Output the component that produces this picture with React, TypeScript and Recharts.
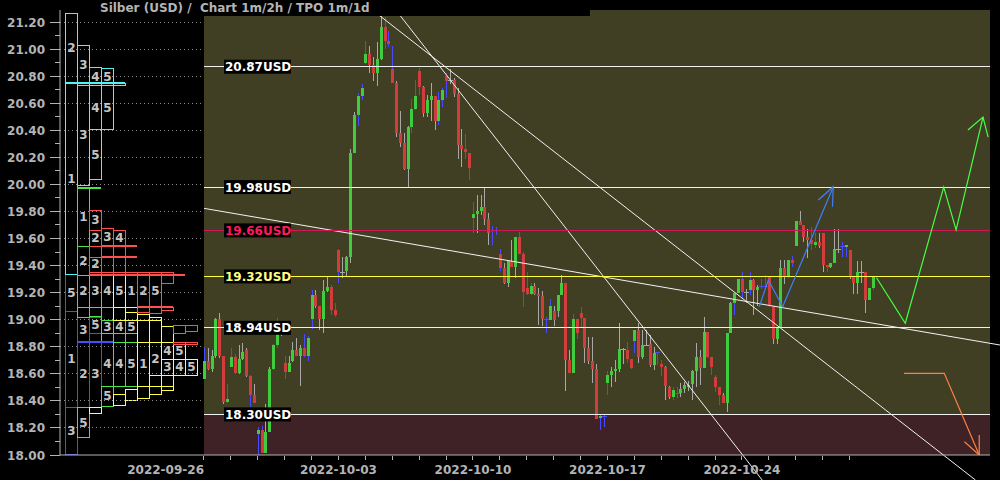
import React from 'react';
import { ComposedChart, XAxis, YAxis, Bar, Line, ReferenceLine, ReferenceArea } from 'recharts';

const FONT = '"DejaVu Sans", sans-serif';
const GREY = '#b4b4b4';

// [open, high, low, close, wick colour] - wick 'b' blue, 'g' grey. 7 bars per trading day.
type Candle = [number, number, number, number, 'b' | 'g'];

const WEEK_0926: Candle[][] = [
  [[18.56, 18.8, 18.56, 18.695, 'b'], [18.695, 18.788, 18.63, 18.636, 'g'], [18.636, 18.776, 18.61, 18.73, 'g'], [18.73, 19.01, 18.72, 19.005, 'g'], [19.005, 19.05, 18.72, 18.73, 'g'], [18.73, 18.73, 18.38, 18.394, 'g'], [18.39, 18.525, 18.387, 18.414, 'b']],
  [[18.653, 18.793, 18.65, 18.727, 'b'], [18.727, 18.747, 18.6, 18.608, 'b'], [18.608, 18.81, 18.6, 18.71, 'g'], [18.71, 18.826, 18.7, 18.76, 'g'], [18.776, 18.788, 18.58, 18.587, 'g'], [18.587, 18.59, 18.357, 18.446, 'b'], [18.446, 18.525, 18.385, 18.387, 'g']],
  [[18.157, 18.21, 18.0, 18.185, 'b'], [18.185, 18.215, 18.012, 18.017, 'b'], [18.017, 18.38, 18.012, 18.167, 'g'], [18.167, 18.653, 18.167, 18.636, 'g'], [18.636, 18.82, 18.63, 18.813, 'b'], [18.813, 19.01, 18.79, 18.892, 'b'], [18.892, 18.99, 18.88, 18.95, 'g']],
  [[18.677, 18.734, 18.562, 18.616, 'b'], [18.616, 18.73, 18.61, 18.677, 'g'], [18.697, 18.838, 18.69, 18.776, 'g'], [18.776, 18.862, 18.73, 18.734, 'g'], [18.734, 18.813, 18.512, 18.793, 'g'], [18.793, 18.892, 18.727, 18.734, 'b'], [18.734, 18.88, 18.697, 18.865, 'b']],
  [[19.005, 19.22, 18.93, 19.183, 'b'], [19.183, 19.22, 19.084, 19.1, 'g'], [19.1, 19.1, 18.924, 19.005, 'g'], [19.005, 19.293, 18.9, 19.212, 'g'], [19.212, 19.318, 19.207, 19.244, 'g'], [19.244, 19.256, 19.035, 19.072, 'b'], [19.072, 19.12, 19.018, 19.035, 'b']],
];

const WEEK_1003: Candle[][] = [
  [[19.515, 19.52, 19.268, 19.355, 'b'], [19.355, 19.466, 19.306, 19.35, 'g'], [19.36, 19.47, 19.32, 19.466, 'g'], [19.466, 20.26, 19.42, 20.234, 'g'], [20.234, 20.537, 20.23, 20.513, 'g'], [20.513, 20.673, 20.434, 20.653, 'b'], [20.653, 20.742, 20.624, 20.71, 'b']],
  [[20.895, 21.06, 20.89, 20.964, 'b'], [20.964, 21.023, 20.826, 20.882, 'g'], [20.882, 20.944, 20.764, 20.826, 'g'], [20.826, 21.055, 20.727, 20.924, 'g'], [20.924, 21.245, 20.92, 21.16, 'g'], [21.16, 21.24, 20.998, 21.062, 'b'], [21.062, 21.136, 21.013, 21.037, 'b']],
  [[20.85, 21.023, 20.75, 20.752, 'b'], [20.752, 20.767, 20.348, 20.383, 'g'], [20.383, 20.545, 20.274, 20.304, 'g'], [20.304, 20.377, 20.106, 20.116, 'g'], [20.116, 20.434, 19.983, 20.427, 'g'], [20.427, 20.631, 20.377, 20.555, 'b'], [20.555, 20.772, 20.55, 20.653, 'b']],
  [[20.838, 20.858, 20.66, 20.722, 'b'], [20.722, 20.727, 20.5, 20.53, 'g'], [20.53, 20.66, 20.5, 20.624, 'g'], [20.624, 20.752, 20.47, 20.653, 'g'], [20.653, 20.653, 20.4, 20.47, 'g'], [20.47, 20.685, 20.44, 20.624, 'b'], [20.624, 20.71, 20.575, 20.698, 'b']],
  [[20.801, 20.826, 20.636, 20.767, 'b'], [20.767, 20.85, 20.742, 20.762, 'g'], [20.772, 20.784, 20.648, 20.668, 'g'], [20.668, 20.71, 20.188, 20.291, 'g'], [20.291, 20.41, 20.131, 20.262, 'g'], [20.262, 20.372, 20.185, 20.242, 'b'], [20.235, 20.235, 20.032, 20.124, 'b']],
];

const WEEK_1010: Candle[][] = [
  [[19.749, 19.872, 19.643, 19.779, 'b'], [19.779, 19.922, 19.643, 19.803, 'g'], [19.803, 19.922, 19.774, 19.835, 'g'], [19.835, 19.978, 19.7, 19.744, 'g'], [19.744, 19.79, 19.552, 19.643, 'g'], [19.66, 19.693, 19.552, 19.655, 'b'], [19.655, 19.688, 19.626, 19.66, 'b']],
  [[19.485, 19.522, 19.362, 19.382, 'b'], [19.382, 19.416, 19.264, 19.274, 'g'], [19.274, 19.441, 19.244, 19.434, 'g'], [19.429, 19.589, 19.387, 19.387, 'g'], [19.387, 19.613, 19.306, 19.613, 'g'], [19.613, 19.65, 19.485, 19.485, 'b'], [19.485, 19.503, 19.096, 19.207, 'b']],
  [[19.237, 19.355, 19.182, 19.19, 'b'], [19.19, 19.269, 19.182, 19.25, 'b'], [19.25, 19.269, 19.182, 19.19, 'g'], [19.19, 19.237, 18.96, 19.175, 'g'], [19.175, 19.212, 18.953, 19.003, 'g'], [19.003, 19.017, 18.899, 19.0, 'b'], [19.0, 19.15, 18.998, 19.1, 'b']],
  [[19.064, 19.1, 18.953, 18.998, 'g'], [19.064, 19.182, 19.022, 19.182, 'g'], [19.182, 19.33, 19.18, 19.269, 'g'], [19.269, 19.269, 18.475, 18.702, 'g'], [18.702, 18.776, 18.608, 18.608, 'g'], [18.608, 19.042, 18.608, 19.003, 'b'], [19.003, 19.003, 18.855, 18.904, 'b']],
  [[19.047, 19.096, 18.936, 19.015, 'b'], [19.015, 19.015, 18.677, 18.788, 'g'], [18.788, 18.874, 18.672, 18.694, 'g'], [18.694, 18.874, 18.53, 18.635, 'g'], [18.635, 18.672, 18.266, 18.266, 'g'], [18.276, 18.296, 18.185, 18.286, 'b'], [18.281, 18.296, 18.21, 18.281, 'b']],
];

const WEEK_1017: Candle[][] = [
  [[18.53, 18.623, 18.443, 18.591, 'b'], [18.591, 18.648, 18.5, 18.62, 'g'], [18.62, 18.702, 18.542, 18.635, 'g'], [18.635, 18.978, 18.61, 18.781, 'g'], [18.78, 18.79, 18.67, 18.776, 'g'], [18.776, 18.838, 18.677, 18.71, 'b'], [18.71, 18.71, 18.633, 18.64, 'b']],
  [[18.845, 18.924, 18.751, 18.924, 'b'], [18.924, 18.978, 18.677, 18.727, 'g'], [18.727, 18.924, 18.707, 18.813, 'g'], [18.813, 18.924, 18.806, 18.81, 'g'], [18.82, 18.887, 18.648, 18.665, 'g'], [18.665, 18.796, 18.628, 18.751, 'g'], [18.756, 18.763, 18.665, 18.756, 'b']],
  [[18.672, 18.702, 18.584, 18.648, 'b'], [18.648, 18.66, 18.41, 18.51, 'g'], [18.505, 18.51, 18.411, 18.426, 'g'], [18.426, 18.5, 18.41, 18.48, 'b'], [18.46, 18.5, 18.42, 18.455, 'b'], [18.46, 18.53, 18.43, 18.49, 'g'], [18.49, 18.54, 18.46, 18.515, 'g']],
  [[18.5, 18.55, 18.47, 18.52, 'g'], [18.525, 18.628, 18.407, 18.62, 'g'], [18.62, 18.825, 18.505, 18.727, 'g'], [18.727, 18.776, 18.517, 18.64, 'g'], [18.64, 19.022, 18.64, 18.91, 'g'], [18.91, 18.91, 18.715, 18.727, 'b'], [18.727, 18.727, 18.59, 18.653, 'b']],
  [[18.574, 18.591, 18.468, 18.505, 'b'], [18.505, 18.505, 18.37, 18.443, 'b'], [18.443, 18.456, 18.382, 18.387, 'g'], [18.387, 18.9, 18.32, 18.9, 'g'], [18.9, 19.133, 18.9, 19.121, 'g'], [19.12, 19.2, 19.035, 19.2, 'b'], [19.2, 19.3, 19.2, 19.3, 'g']],
];

const WEEK_1024: Candle[][] = [
  [[19.3, 19.355, 19.15, 19.207, 'b'], [19.207, 19.224, 19.126, 19.2, 'g'], [19.22, 19.355, 19.183, 19.294, 'b'], [19.294, 19.3, 19.035, 19.22, 'g'], [19.22, 19.26, 19.1, 19.24, 'g'], [19.24, 19.3, 19.23, 19.245, 'b'], [19.245, 19.33, 19.23, 19.25, 'b']],
  [[19.313, 19.318, 19.096, 19.1, 'b'], [19.1, 19.1, 18.82, 18.855, 'g'], [18.855, 18.936, 18.82, 18.936, 'g'], [18.936, 19.44, 18.936, 19.38, 'g'], [19.38, 19.44, 19.264, 19.323, 'g'], [19.323, 19.44, 19.306, 19.44, 'b'], [19.44, 19.471, 19.392, 19.42, 'b']],
  [[19.545, 19.73, 19.545, 19.73, 'g'], [19.73, 19.804, 19.7, 19.7, 'g'], [19.7, 19.7, 19.577, 19.614, 'g'], [19.614, 19.668, 19.454, 19.589, 'g'], [19.589, 19.688, 19.515, 19.56, 'b'], [19.552, 19.638, 19.528, 19.577, 'b'], [19.577, 19.638, 19.528, 19.545, 'g']],
  [[19.638, 19.638, 19.355, 19.404, 'g'], [19.404, 19.404, 19.355, 19.387, 'b'], [19.387, 19.422, 19.38, 19.422, 'g'], [19.422, 19.668, 19.42, 19.52, 'g'], [19.52, 19.668, 19.49, 19.52, 'g'], [19.54, 19.577, 19.466, 19.54, 'b'], [19.535, 19.552, 19.466, 19.552, 'b']],
  [[19.515, 19.515, 19.3, 19.313, 'g'], [19.313, 19.313, 19.19, 19.274, 'g'], [19.274, 19.434, 19.19, 19.355, 'g'], [19.355, 19.434, 19.27, 19.35, 'g'], [19.355, 19.355, 19.047, 19.146, 'g'], [19.146, 19.232, 19.146, 19.232, 'g'], [19.232, 19.318, 19.22, 19.318, 'b']],
];

const WEEK_LABELS = ['2022-09-26', '2022-10-03', '2022-10-10', '2022-10-17', '2022-10-24'];
const DAY_TICKS = [0, 1, 2, 3, 4, 5, 6, 7, 8, 9, 10, 11, 12, 13, 14, 15, 16, 17, 18, 19, 20, 21, 22, 23, 24];
const Y_TICKS = [18.0, 18.1, 18.2, 18.3, 18.4, 18.5, 18.6, 18.7, 18.8, 18.9, 19.0, 19.1, 19.2, 19.3, 19.4, 19.5, 19.6, 19.7, 19.8, 19.9, 20.0, 20.1, 20.2, 20.3, 20.4, 20.5, 20.6, 20.7, 20.8, 20.9, 21.0, 21.1, 21.2];
const GRID_LEVELS = [18.2, 18.4, 18.6, 18.8, 19.0, 19.2, 19.4, 19.6, 19.8, 20.0, 20.2, 20.4, 20.6, 20.8, 21.0, 21.2];

// price levels with their labels
const LEVELS = [20.87, 19.98, 19.66, 19.32, 18.94, 18.3];
const LEVEL_TEXT = ['20.87USD', '19.98USD', '19.66USD', '19.32USD', '18.94USD', '18.30USD'];
const LEVEL_STYLE: Record<string, { line: string; text: string }> = {
  '20.87': { line: '#f0f0f0', text: '#ffffff' },
  '19.98': { line: '#f0f0f0', text: '#ffffff' },
  '19.66': { line: '#d01858', text: '#ff1a5e' },
  '19.32': { line: '#ffff40', text: '#ffff80' },
  '18.94': { line: '#f0f0f0', text: '#ffffff' },
  '18.30': { line: '#f0f0f0', text: '#ffffff' },
};

// trend lines: [day, price] -> [day, price]
const TREND_LINES: [number, number, number, number][] = [
  [0, 19.823, 29.59, 18.813],
  [7.13, 21.289, 20.75, 17.815],
  [6.26, 21.289, 28.68, 17.815],
];

// projection paths (day, price)
const GREEN_PATH = [
  { x: 25.0, v: 19.31 }, { x: 26.07, v: 18.974 }, { x: 27.5, v: 19.98 }, { x: 27.96, v: 19.663 }, { x: 28.96, v: 20.498 },
];
const GREEN_HEAD = [{ x: 28.4, v: 20.402 }, { x: 28.96, v: 20.498 }, { x: 29.15, v: 20.35 }];
const BLUE_PATH = [{ x: 20.643, v: 19.096 }, { x: 20.978, v: 19.293 }, { x: 21.513, v: 19.096 }, { x: 23.394, v: 19.983 }];
const BLUE_HEAD = [{ x: 22.836, v: 19.885 }, { x: 23.394, v: 19.983 }, { x: 23.364, v: 19.835 }];
const ORANGE_PATH = [{ x: 26.02, v: 18.604 }, { x: 27.52, v: 18.604 }, { x: 28.82, v: 18.0 }];
const ORANGE_HEAD = [{ x: 28.27, v: 18.098 }, { x: 28.82, v: 18.0 }, { x: 28.82, v: 18.148 }];

// TPO profile boxes: [column, low, high, label]
type Tpo = [number, number, number, string];
const TPO_CYAN: Tpo[] = [
  [0, 20.752, 21.265, '2'], [0, 19.336, 20.752, '1'],
  [1, 20.732, 21.03, '3'], [1, 19.995, 20.732, '3'],
  [2, 20.732, 20.865, '4'], [2, 20.407, 20.732, '4'], [2, 20.037, 20.407, '5'],
  [3, 20.732, 20.86, '5'], [3, 20.407, 20.732, '5'], [4, 20.732, 20.752, ''],
];
const TPO_GREEN: Tpo[] = [
  [1, 19.544, 19.971, '1'], [1, 19.33, 19.544, '2'], [1, 19.096, 19.33, '2'],
  [2, 19.544, 19.663, '2'], [2, 19.096, 19.33, '3'], [3, 19.096, 19.33, '4'],
  [1, 19.02, 19.096, ''], [2, 19.03, 19.096, ''], [3, 18.998, 19.096, ''],
  [3, 18.9, 18.998, '3'], [4, 18.9, 18.998, '4'], [5, 18.9, 18.998, '5'],
  [3, 18.838, 18.9, ''], [4, 18.838, 18.9, ''], [5, 18.838, 18.9, ''],
  [4, 18.513, 18.838, '4'], [5, 18.513, 18.838, '5'],
  [3, 18.362, 18.513, '5'], [1, 18.13, 18.352, '5'],
];
const TPO_RED: Tpo[] = [
  [2, 19.663, 19.81, '3'], [3, 19.544, 19.68, '3'], [4, 19.544, 19.663, '4'],
  [2, 19.465, 19.544, ''], [3, 19.465, 19.544, ''], [4, 19.465, 19.544, ''],
  [2, 19.355, 19.465, '2'], [3, 19.355, 19.465, ''], [4, 19.355, 19.465, ''],
  [2, 19.33, 19.355, ''], [3, 19.33, 19.355, ''], [4, 19.33, 19.355, ''], [5, 19.33, 19.355, ''],
  [6, 19.33, 19.355, ''], [7, 19.33, 19.355, ''], [8, 19.33, 19.355, ''],
  [6, 19.096, 19.33, '2'], [7, 19.096, 19.33, '5'], [8, 19.27, 19.33, ''],
  [6, 19.06, 19.096, ''], [7, 19.05, 19.096, ''], [8, 19.07, 19.096, ''],
  [9, 18.9, 18.96, ''], [10, 18.92, 18.96, ''], [9, 18.82, 18.838, ''], [10, 18.82, 18.838, ''],
];
const TPO_YELLOW: Tpo[] = [
  [4, 19.096, 19.33, '5'], [5, 19.096, 19.33, '1'],
  [4, 19.0, 19.096, ''], [5, 19.0, 19.06, ''], [6, 18.998, 19.04, ''], [7, 18.998, 19.02, ''],
  [6, 18.838, 18.998, ''], [7, 18.838, 18.998, ''], [8, 18.838, 18.95, ''],
  [6, 18.513, 18.838, '1'], [7, 18.591, 18.838, '2'],
  [8, 18.707, 18.838, '4'], [8, 18.591, 18.707, '3'], [8, 18.513, 18.591, ''],
  [9, 18.707, 18.838, '5'], [9, 18.591, 18.707, '4'], [10, 18.591, 18.707, '5'],
  [7, 18.513, 18.591, ''],
  [4, 18.37, 18.45, ''], [5, 18.41, 18.49, ''], [6, 18.42, 18.513, ''], [7, 18.45, 18.513, ''], [8, 18.48, 18.513, ''],
  [2, 18.313, 18.352, ''],
];
const TPO_BLUE: Tpo[] = [
  [0, 19.066, 19.336, '5'], [0, 18.355, 19.066, '1'], [0, 18.005, 18.355, '3'],
  [1, 18.838, 19.02, '3'], [1, 18.357, 18.838, '2'],
  [2, 18.9, 19.02, '5'], [2, 18.357, 18.838, '3'],
  [3, 18.513, 18.838, '4'],
];
// TPO point-of-control lines: [from column, to column, price]
const POC_CYAN = [[0, 5, 20.752]];
const POC_GREEN = [[1, 3, 19.971]];
const POC_RED = [[3, 6, 19.544], [3, 6, 19.465], [2, 10, 19.33], [6, 9, 19.096]];
const POC_BLUE = [[1, 4, 18.838]];

const TPO_SETS: { boxes: Tpo[]; lines: number[][]; color: string }[] = [
  { boxes: TPO_BLUE, lines: POC_BLUE, color: '#4c4cff' },
  { boxes: TPO_CYAN, lines: POC_CYAN, color: '#4cf4f4' },
  { boxes: TPO_GREEN, lines: POC_GREEN, color: '#48e448' },
  { boxes: TPO_YELLOW, lines: [], color: '#ffff48' },
  { boxes: TPO_RED, lines: POC_RED, color: '#ff5050' },
];

const X_MIN = -5.353;
const X_MAX = 29.22;
const Y_MIN = 18;
const Y_MAX = 21.289;
const TPO_MIN = -0.458;
const TPO_MAX = 77.04;

const candleData = [WEEK_0926, WEEK_1003, WEEK_1010, WEEK_1017, WEEK_1024].flatMap((week, w) =>
  week.flatMap((day, d) =>
    day.map(([o, h, l, c, wick], s) => ({ x: w * 5 + d + s / 7, o, h, l, c, wick, range: [l, h] })),
  ),
);

const CandleShape = (props: any) => {
  const { x, y, width, height, payload } = props;
  const { o, h, l, c, wick } = payload;
  const span = h - l || 1e-6;
  const toY = (v: number) => y + ((h - v) / span) * height;
  const cx = Math.round(x + width / 2) + 0.5;
  const wickColor = wick === 'b' ? '#4a4aff' : '#a8a8a8';
  const top = toY(Math.max(o, c));
  const bot = toY(Math.min(o, c));
  const doji = bot - top < 1.2;
  return (
    <g shapeRendering="crispEdges">
      <line x1={cx} x2={cx} y1={y} y2={y + height} stroke={wickColor} strokeWidth={1} />
      {doji ? (
        <line x1={cx - 2.5} x2={cx + 2.5} y1={(top + bot) / 2} y2={(top + bot) / 2} stroke={wickColor} strokeWidth={1} />
      ) : (
        <rect x={cx - 1.5} y={top} width={3} height={bot - top} fill={c >= o ? '#3fcc3f' : '#d23c3c'} />
      )}
    </g>
  );
};

// outline box for a TPO block, snapped to whole pixels
const tpoShape = (color: string) => (props: any) => {
  const { x, y, width, height } = props;
  const x0 = Math.round(x) + 0.5;
  const y0 = Math.round(y) + 0.5;
  const w = Math.max(1, Math.round(x + width) - Math.round(x));
  const h = Math.max(1, Math.round(y + height) - Math.round(y));
  return <rect x={x0} y={y0} width={w} height={h} fill="none" stroke={color} strokeWidth={1} />;
};

const YTick = (props: any) => {
  const { x, y, payload } = props;
  const v = payload.value as number;
  const major = Math.round(v * 10) % 2 === 0;
  return (
    <g>
      <line x1={x - (major ? 10 : 5)} x2={x} y1={y} y2={y} stroke={GREY} shapeRendering="crispEdges" />
      {major && (
        <text x={x - 15} y={y + 4.5} textAnchor="end" fill={GREY} fontSize={12} fontWeight="bold" fontFamily={FONT}>
          {v.toFixed(2)}
        </text>
      )}
    </g>
  );
};

const XTick = (props: any) => {
  const { x, y, payload } = props;
  const v = payload.value as number;
  const label = v % 5 === 0 ? WEEK_LABELS[v / 5] : null;
  return (
    <g>
      <line x1={x} x2={x} y1={y + 1} y2={y + 5} stroke={GREY} shapeRendering="crispEdges" />
      {label && (
        <text x={x} y={y + 19} textAnchor={v === 0 ? 'end' : 'middle'} fill={GREY} fontSize={12} fontWeight="bold" fontFamily={FONT}>
          {label}
        </text>
      )}
    </g>
  );
};

const levelLabel = (text: string, color: string) => (props: any) => {
  const { viewBox } = props;
  const x = viewBox.x + 20;
  const y = viewBox.y;
  return (
    <g>
      <rect x={x} y={y - 7} width={67} height={14} fill="#000" />
      <text x={x + 1} y={y + 4.5} fill={color} fontSize={12} fontWeight="bold" fontFamily={FONT}>
        {text}
      </text>
    </g>
  );
};

export default function App() {
  return (
    <div style={{ position: 'absolute', left: 0, top: 0, width: 1000, height: 480, background: '#000' }}>
      <ComposedChart width={1000} height={480} data={candleData} margin={{ top: 10, right: 10, bottom: 0, left: 0 }}>
        <XAxis
          dataKey="x"
          type="number"
          domain={[X_MIN, X_MAX]}
          ticks={DAY_TICKS}
          interval={0}
          allowDataOverflow
          height={25}
          tickLine={false}
          tickSize={0}
          tickMargin={0}
          tick={<XTick />}
          axisLine={{ stroke: GREY }}
        />
        <XAxis xAxisId="tpo" dataKey="x" type="number" domain={[TPO_MIN, TPO_MAX]} allowDataOverflow hide />
        <YAxis
          type="number"
          domain={[Y_MIN, Y_MAX]}
          ticks={Y_TICKS}
          interval={0}
          allowDataOverflow
          width={60}
          tickLine={false}
          tickSize={0}
          tickMargin={0}
          tick={<YTick />}
          axisLine={{ stroke: GREY }}
        />

        <ReferenceArea x1={0} x2={X_MAX} y1={18.3} y2={Y_MAX} fill="#403f24" fillOpacity={1} stroke="none" />
        <ReferenceArea x1={0} x2={X_MAX} y1={Y_MIN} y2={18.3} fill="#3e2226" fillOpacity={1} stroke="none" />

        {GRID_LEVELS.map((v) => (
          <ReferenceLine
            key={`g${v}`}
            segment={[{ x: X_MIN, y: v }, { x: 0, y: v }]}
            stroke="#8a8a8a"
            strokeDasharray="1 3"
            shapeRendering="crispEdges"
          />
        ))}

        {TPO_SETS.flatMap((set, si) =>
          set.boxes.map((b, i) => (
            <ReferenceArea
              key={`t${si}-${i}`}
              xAxisId="tpo"
              x1={b[0]}
              x2={b[0] + 1}
              y1={b[1]}
              y2={b[2]}
              fill="none"
              stroke={set.color}
              shape={tpoShape(set.color)}
              label={b[3] ? { value: b[3], position: 'center', fill: '#c4c4c4', fontSize: 12, fontWeight: 'bold', fontFamily: FONT } : undefined}
            />
          )),
        )}
        {TPO_SETS.flatMap((set, si) =>
          set.lines.map((l, i) => (
            <ReferenceLine
              key={`p${si}-${i}`}
              xAxisId="tpo"
              segment={[{ x: l[0], y: l[2] }, { x: l[1], y: l[2] }]}
              stroke={set.color}
              strokeWidth={2}
              shapeRendering="crispEdges"
            />
          )),
        )}

        <Bar dataKey="range" barSize={3} shape={<CandleShape />} isAnimationActive={false} />

        {TREND_LINES.map((t, i) => (
          <ReferenceLine
            key={`tr${i}`}
            segment={[{ x: t[0], y: t[1] }, { x: t[2], y: t[3] }]}
            stroke="#f2f2f2"
            strokeWidth={1}
            ifOverflow="visible"
          />
        ))}

        {LEVELS.map((v, i) => {
          const st = LEVEL_STYLE[v.toFixed(2)];
          return (
            <ReferenceLine
              key={`l${v}`}
              segment={[{ x: 0, y: v }, { x: X_MAX, y: v }]}
              stroke={st.line}
              strokeWidth={1.2}
              shapeRendering="crispEdges"
              label={levelLabel(LEVEL_TEXT[i], st.text)}
            />
          );
        })}

        <Line data={BLUE_PATH} dataKey="v" stroke="#3f7fff" strokeWidth={1.2} dot={false} isAnimationActive={false} />
        <Line data={BLUE_HEAD} dataKey="v" stroke="#3f7fff" strokeWidth={1.2} dot={false} isAnimationActive={false} />
        <Line data={GREEN_PATH} dataKey="v" stroke="#44ff44" strokeWidth={1.2} dot={false} isAnimationActive={false} />
        <Line data={GREEN_HEAD} dataKey="v" stroke="#44ff44" strokeWidth={1.2} dot={false} isAnimationActive={false} />
        <Line data={ORANGE_PATH} dataKey="v" stroke="#ff8040" strokeWidth={1.2} dot={false} isAnimationActive={false} />
        <Line data={ORANGE_HEAD} dataKey="v" stroke="#ff8040" strokeWidth={1.2} dot={false} isAnimationActive={false} />
      </ComposedChart>
      <div
        style={{
          position: 'absolute',
          left: 96,
          top: 0,
          width: 494,
          height: 16,
          background: '#000',
          color: GREY,
          fontFamily: FONT,
          fontWeight: 'bold',
          fontSize: 12,
          lineHeight: '17px',
          paddingLeft: 4,
          boxSizing: 'border-box',
          whiteSpace: 'pre',
        }}
      >
        {'Silber (USD) /  Chart 1m/2h / TPO 1m/1d'}
      </div>
    </div>
  );
}
